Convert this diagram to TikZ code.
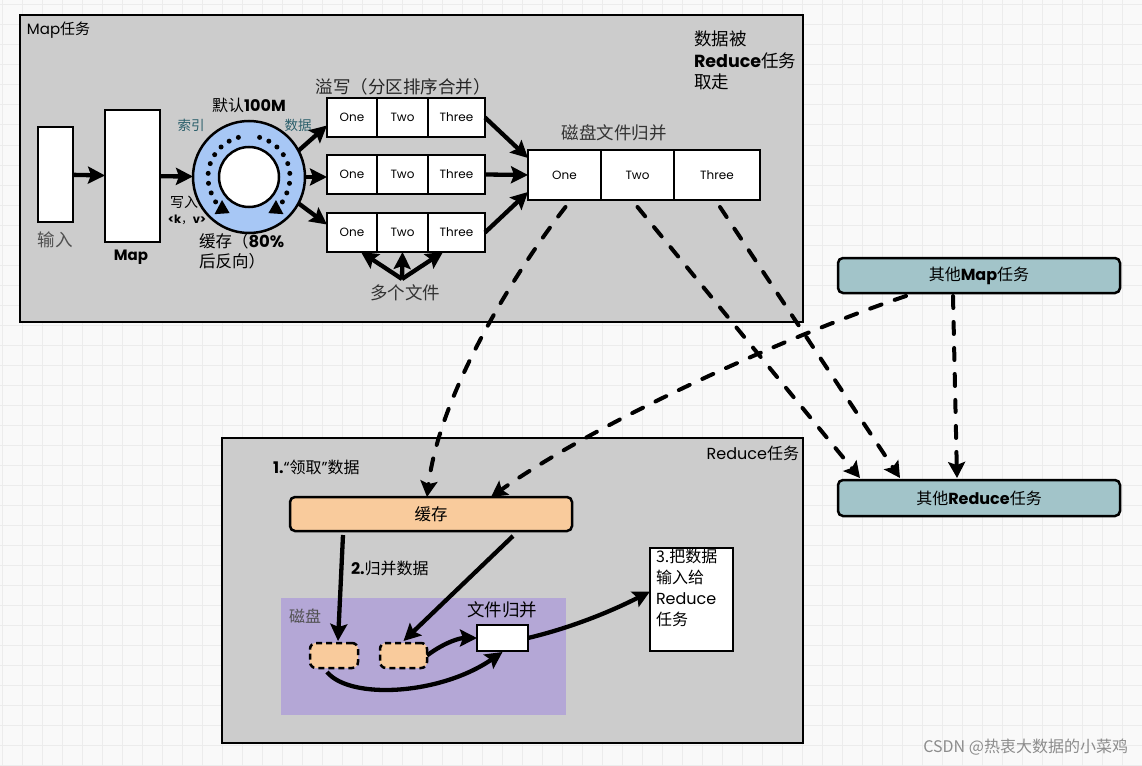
\documentclass[tikz,border=0pt]{standalone}
\usepackage{fontspec}
\setmainfont{Noto Sans CJK SC}
\newfontfamily\pop{Poppins}
\usetikzlibrary{arrows.meta,calc}
\definecolor{bgc}{HTML}{F9F9F9}
\definecolor{gridc}{HTML}{ECECEC}
\definecolor{boxgray}{HTML}{CCCCCC}
\definecolor{ringblue}{HTML}{A7C7F5}
\definecolor{tealtxt}{HTML}{2B5F6B}
\definecolor{peach}{HTML}{F9CB9C}
\definecolor{lav}{HTML}{B4A7D6}
\definecolor{otask}{HTML}{A2C4C9}
\definecolor{txtgray}{HTML}{505050}
\newcommand\myb[1]{{\pop\bfseries #1}}
\newcommand\myr[1]{{\pop #1}}
\newcommand\fs[1]{\fontsize{#1}{#1}\selectfont}
\newcommand\fsb[2]{\fontsize{#1}{#2}\selectfont}
\begin{document}
\begin{tikzpicture}[x=1pt,y=-1pt,
  every node/.style={inner sep=0pt,outer sep=0pt},
  pbox/.style={anchor=north west,draw=black,line width=2.5pt},
  task/.style={pbox,fill=boxgray},
  cell/.style={pbox,fill=white,font=\pop\fs{12}},
  lbl/.style={font=\fs{16}},
  big/.style={font=\fs{17.5}},
  arr/.style={line width=4.3pt,-{Stealth[length=17pt,width=17pt,inset=3pt]}},
  darr/.style={line width=4pt,line cap=round,dash pattern=on 12pt off 14pt,-{Stealth[length=16pt,width=17pt,inset=3pt]}},
  dots/.style={line width=5pt,line cap=round,dash pattern=on 0pt off 10pt,-{Triangle[length=13pt,width=15pt]}}
]
\useasboundingbox (0,0) rectangle (1142,765);
\fill[bgc] (0,0) rectangle (1142,765);
\foreach \gx in {2,22,...,1142} \draw[gridc,line width=1pt] (\gx,0) -- (\gx,765);
\foreach \gy in {5,25,...,765} \draw[gridc,line width=1pt] (0,\gy) -- (1142,\gy);

% Map task
\node[task,minimum width=783,minimum height=307] (maptask) at (20,15) {};
\node[anchor=west,font=\fs{15}] (maplbl) at (27,30) {\myr{Map}任务};
\node[anchor=north west,align=left,font=\fsb{17.5}{21.5}] (taken) at (694,31) {数据被\\\myb{Reduce}任务\\取走};

\node[pbox,fill=white,minimum width=35,minimum height=95] (in) at (38,127) {};
\node[big,text=txtgray] (inlbl) at (55,240) {输入};
\node[pbox,fill=white,minimum width=55,minimum height=132] (map) at (105,110) {};
\node[font=\pop\bfseries\fs{15}] (maplab) at (131,257) {Map};

\node[circle,draw=black,line width=2.5pt,fill=ringblue,minimum size=112] (ring) at (249,177) {};
\node[circle,draw=black,line width=2.5pt,fill=white,minimum size=60] (hole) at (ring) {};
\draw[dots] ($(ring)+(255:41)$) arc[start angle=255,end angle=118,radius=41];
\draw[dots] ($(ring)+(-75:41)$) arc[start angle=-75,end angle=62,radius=41];
\node[lbl] (deflbl) at (249,105) {默认\myb{100M}};
\node[font=\fs{13.5},text=tealtxt] (idx) at (191,125) {索引};
\node[font=\fs{13.5},text=tealtxt] (dat) at (298,125) {数据};
\node[font=\fs{14}] (wr) at (184,202) {写入};
\node[font=\fs{11.5}] (kv) at (187,220) {\myb{<k}，\myb{v>}};
\node[anchor=north west,align=left,font=\fsb{16.5}{20.5}] (buf) at (199,233) {缓存（\myb{80\%}\\后反向）};

\node[big,text=black!85] (spill) at (403,87) {溢写（分区排序合并）};
\foreach \r/\y in {1/98,2/155,3/213}{
  \node[cell,minimum width=50,minimum height=39] (r\r-a) at (327,\y) {One};
  \node[cell,minimum width=51,minimum height=39] (r\r-b) at (377,\y) {Two};
  \node[cell,minimum width=57,minimum height=39] (r\r-c) at (428,\y) {Three};
}
\node[big,text=black!80] (mfl) at (405,293) {多个文件};
\coordinate (mf) at (402,279);

\node[big,text=black!80] (mergel) at (614,133) {磁盘文件归并};
\node[cell,minimum width=73,minimum height=50] (m-a) at (528,150) {One};
\node[cell,minimum width=73,minimum height=50] (m-b) at (601,150) {Two};
\node[cell,minimum width=86,minimum height=50] (m-c) at (674,150) {Three};

\draw[arr] (in) -- (map);
\draw[arr] (map) -- (ring);
\draw[arr] (ring.28) -- ($(r1-a.west)+(0,8)$);
\draw[arr] (ring.east) -- (ring.east -| r2-a.west);
\draw[arr] (ring.-28) -- ($(r3-a.west)+(0,-8)$);
\draw[arr] (r1-c.east) -- ($(m-a.west)+(0,-17)$);
\draw[arr] (r2-c.east) -- (m-a.west);
\draw[arr] (r3-c.east) -- ($(m-a.west)+(0,17)$);
\draw[arr] (mf) -- ($(r3-a.south)+(9,0)$);
\draw[arr] (mf) -- (r3-b.south);
\draw[arr] (mf) -- ($(r3-c.south west)+(15,0)$);

% other tasks
\node[pbox,rounded corners=5pt,fill=otask,minimum width=282,minimum height=35,font=\fs{16}] (om) at (838,258) {其他\myb{Map}任务};
\node[pbox,rounded corners=5pt,fill=otask,minimum width=282,minimum height=36,font=\fs{16}] (or) at (838,480) {其他\myb{Reduce}任务};

% Reduce task
\node[task,minimum width=581,minimum height=305] (redtask) at (222,438) {};
\node[lbl,anchor=east] (redlbl) at (799,453) {\myr{Reduce}任务};
\node[lbl,anchor=west] (s1) at (273,467) {\myb{1.}\myr{“}领取\myr{”}数据};
\node[pbox,rounded corners=5pt,fill=peach,minimum width=282,minimum height=34,font=\fs{16.5}] (cache) at (290,497) {缓存};
\node[lbl,anchor=west] (s2) at (351,568) {\myb{2.}归并数据};
\node[anchor=north west,fill=lav,minimum width=285,minimum height=117] (disk) at (281,598) {};
\node[lbl,anchor=west,text=txtgray] (disklbl) at (289,616) {磁盘};
\node[pbox,rounded corners=6pt,dash pattern=on 6pt off 4pt,fill=peach,minimum width=48,minimum height=25] (b1) at (310,643) {};
\node[pbox,rounded corners=6pt,dash pattern=on 6pt off 4pt,fill=peach,minimum width=47,minimum height=25] (b2) at (380,643) {};
\node[big] (fmlbl) at (502,610) {文件归并};
\node[pbox,fill=white,minimum width=51,minimum height=26] (small) at (477,625) {};
\node[pbox,fill=white,minimum width=83,minimum height=103] (res) at (650,548) {};
\node[anchor=north west,align=left,font=\fsb{16}{21}] (restxt) at (656,549) {3.把数据\\输入给\\\myr{Reduce}\\任务};

\draw[arr] ($(cache.south west)+(53,4)$) -- ($(b1.north)+(4,-2)$);
\draw[arr] ($(cache.south west)+(223,5)$) -- ($(b2.north)+(0,-2)$);
\draw[arr] (b2.east) .. controls (445,642) and (460,638) .. (small.west);
\draw[arr] ($(b1.south)+(-7,4)$) .. controls (350,700) and (440,695) .. ($(small.south)+(0,1)$);
\draw[arr] (small.east) .. controls (570,628) and (610,612) .. ($(res.west)+(0,-8)$);

% dashed transfers
\draw[darr] ($(m-a.south)+(1,7)$) .. controls (520,265) and (440,390) .. ($(cache.north)+(-4,0)$);
\draw[darr] ($(om.south west)+(68,3)$) .. controls (790,335) and (600,420) .. ($(cache.north)+(60,0)$);
\draw[darr] ($(m-b.south)+(0,7)$) -- ($(or.north west)+(22,-2)$);
\draw[darr] ($(m-c.south)+(3,7)$) -- ($(or.north west)+(62,-2)$);
\draw[darr] ($(om.south west)+(115,3)$) -- ($(or.north west)+(119,-2)$);

\node[anchor=east,font=\fs{16},text=black!45] (wm) at (1128,747) {CSDN @热衷大数据的小菜鸡};
\end{tikzpicture}
\end{document}
